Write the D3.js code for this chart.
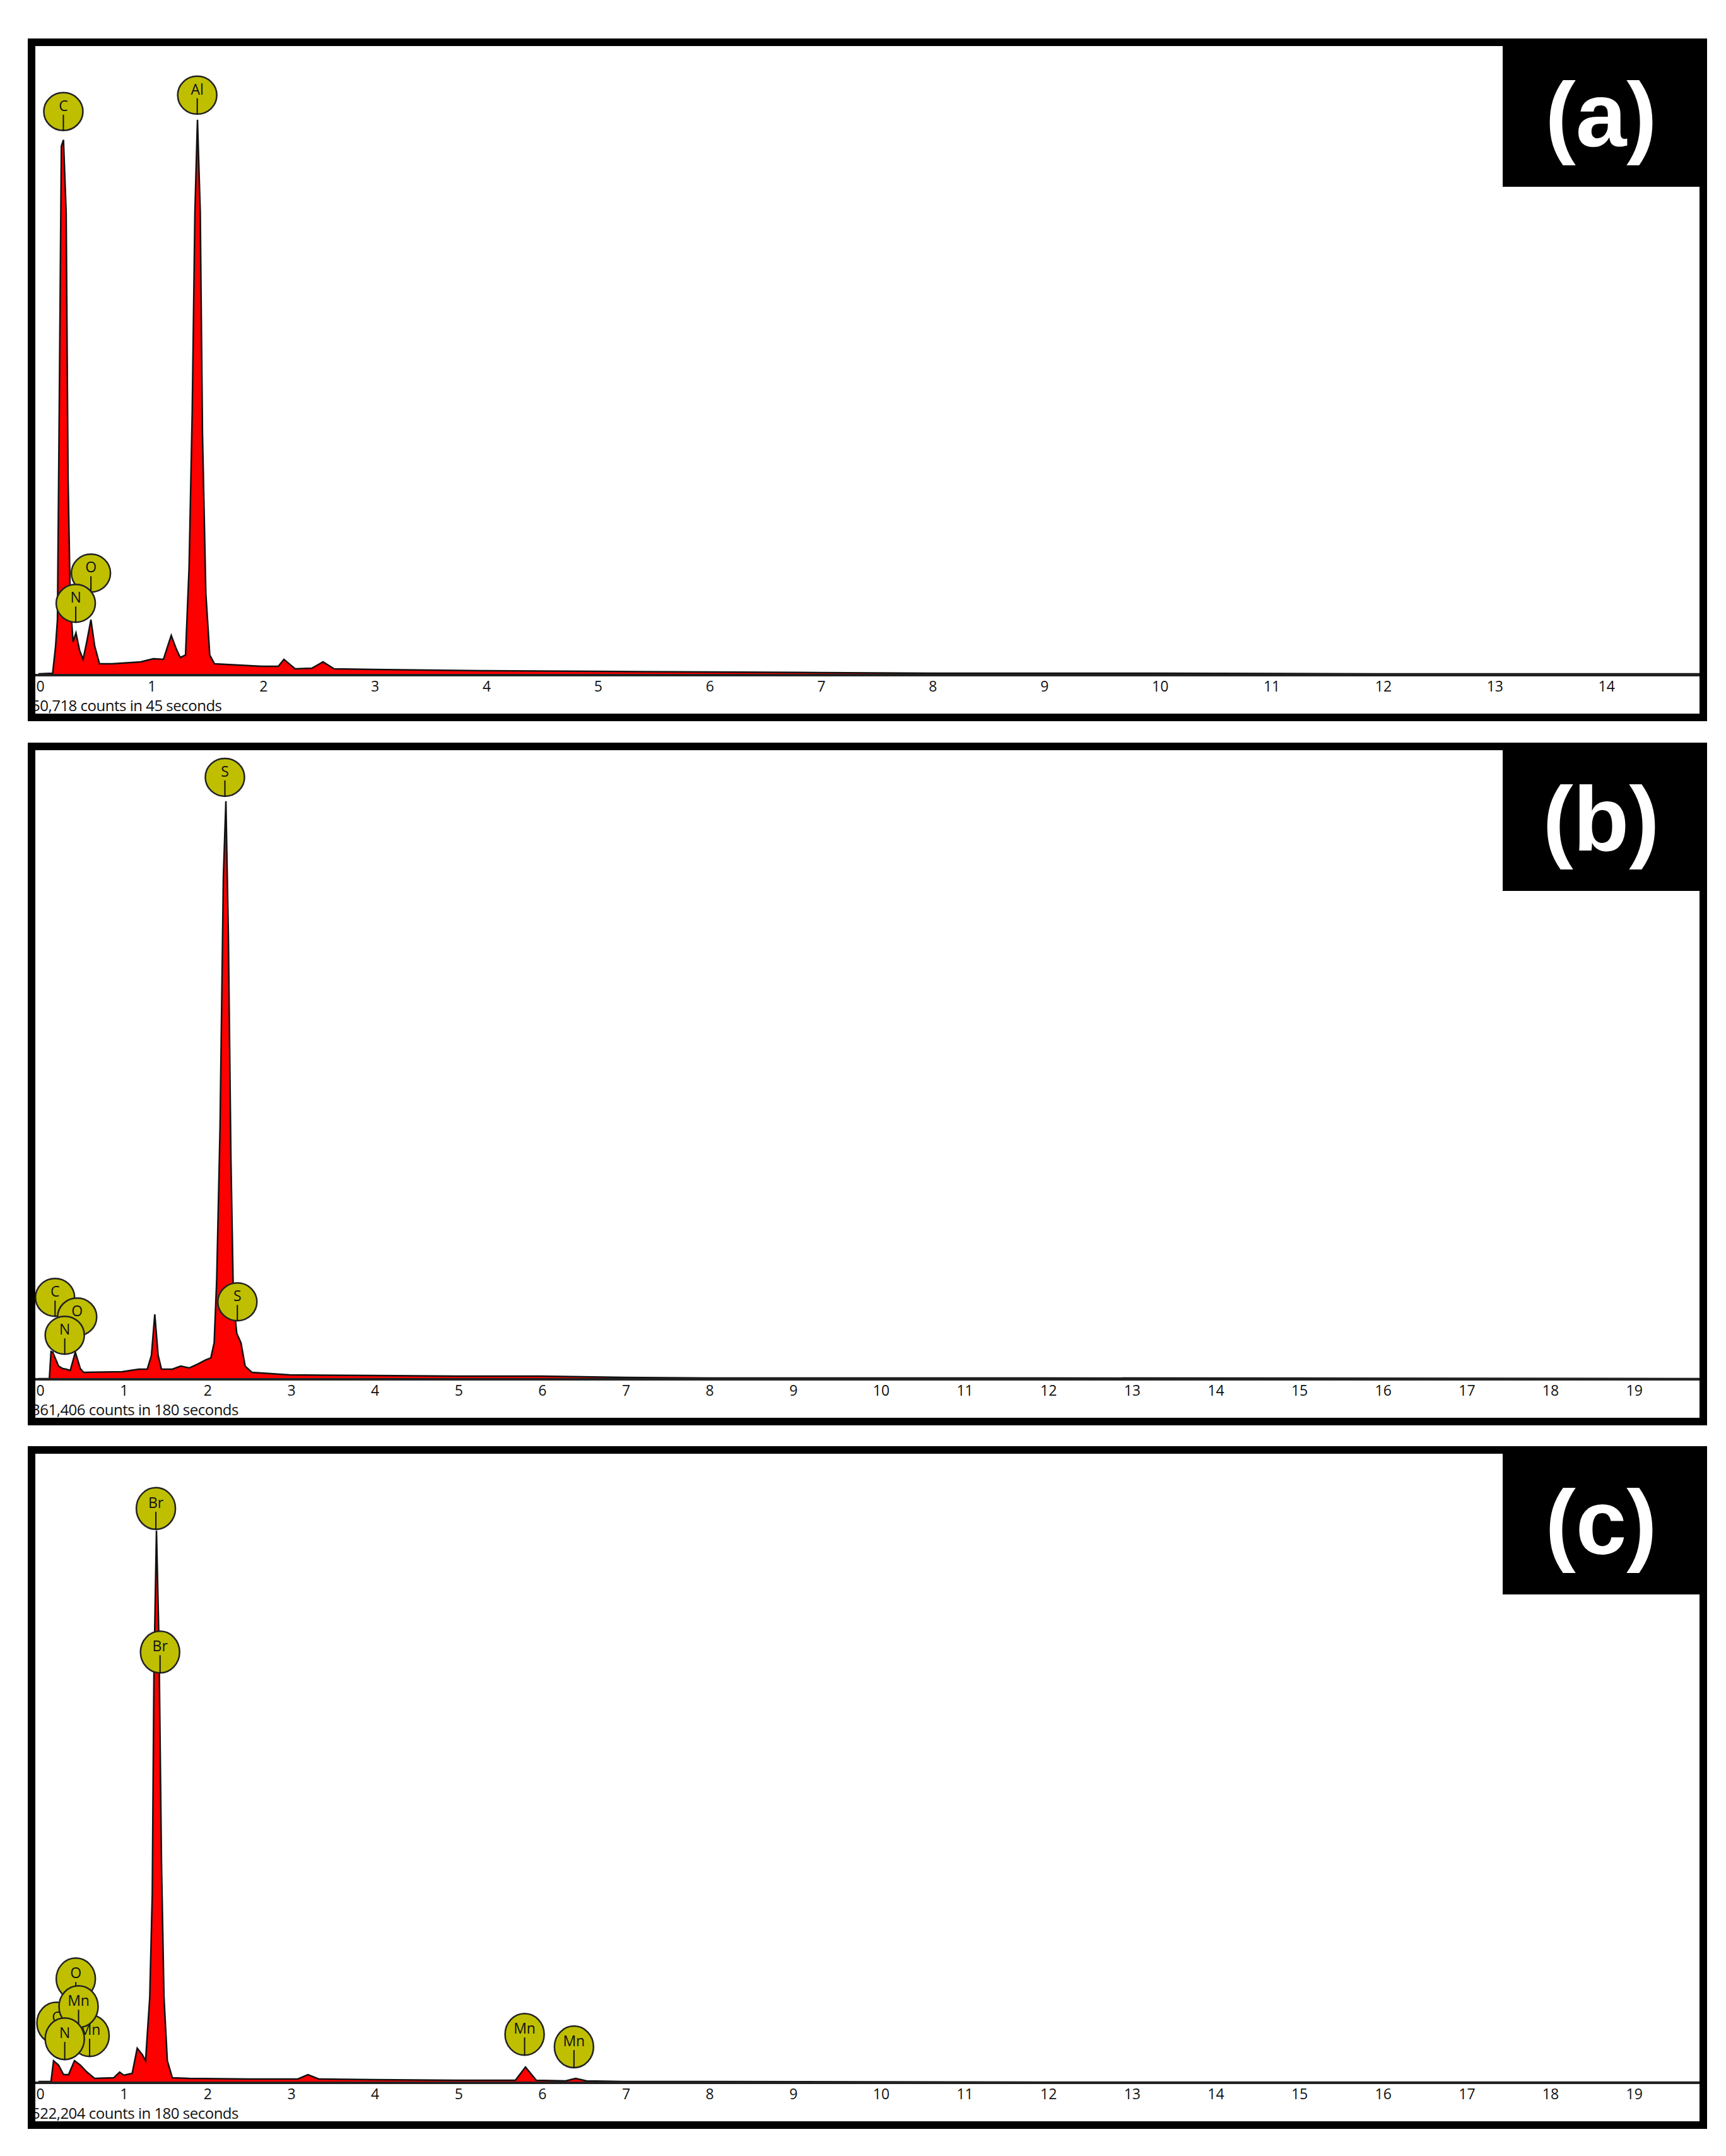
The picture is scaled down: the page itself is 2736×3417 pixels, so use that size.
<!DOCTYPE html>
<html><head><meta charset="utf-8">
<script src="https://cdn.jsdelivr.net/npm/d3@7"></script>
<style>html,body{margin:0;padding:0;background:#fff}</style>
</head><body>
<script>
// ---- Data (keV, relative counts) ----
const energyA = [0,0.127,0.153,0.17,0.186,0.205,0.224,0.248,0.265,0.285,0.31,0.336,0.369,0.4,0.433,0.47,0.504,0.547,0.66,0.916,1.03,1.12,1.158,1.19,1.234,1.27,1.318,1.35,1.378,1.402,1.425,1.45,1.47,1.5,1.535,1.578,2.0,2.15,2.2,2.3,2.45,2.55,2.65,3,4,5,6,7,8,10,12,14.9];
const countsA = [2,3,45,88,418,840,850,735,313,116,53,67,39,25,53,88,46,18,18,21,26,25,46,63,42,28,32,172,418,735,882,735,383,130,32,18,14,14,25,10,11,21,10,9,7,6,5,4,3,3,2,2];
const energyB = [0,0.13,0.15,0.17,0.24,0.29,0.33,0.38,0.44,0.5,0.54,1.0,1.2,1.3,1.35,1.39,1.43,1.47,1.6,1.7,1.8,1.9,2.0,2.06,2.1,2.13,2.17,2.21,2.24,2.27,2.3,2.33,2.37,2.42,2.47,2.55,3,4,5,6,7,8,12,19.9];
const countsB = [1,1,44,43,21,17,16,14,43,17,11,12,16,16,38,103,38,16,16,21,18,24,31,34,58,158,400,800,918,700,350,125,73,58,21,11,7,6,5,5,3,2,2,1];
const energyC = [0,0.15,0.18,0.24,0.3,0.36,0.43,0.5,0.58,0.67,0.9,0.97,1.02,1.12,1.18,1.24,1.28,1.33,1.36,1.38,1.41,1.44,1.47,1.5,1.54,1.6,1.8,2.5,3.1,3.22,3.35,4,5,5.7,5.82,5.95,6.3,6.42,6.55,7,8,12,19.9];
const countsC = [2,2,35,28,13,13,35,28,17,7,8,17,12,15,55,45,35,136,300,650,877,700,350,136,35,8,7,6,6,13,6,5,4,4,25,4,3,7,3,2,2,1,1];
const ticksA = d3.range(0,15);
const ticksBC = d3.range(0,20);
const labelsA = [["C",0.223,895],["Al",1.423,921],["O",0.47,162],["N",0.334,114]];
const labelsB = [["S",2.228,956],["S",2.377,123],["C",0.198,130],["O",0.462,99],["N",0.314,70]];
const labelsC = [["Br",1.403,912],["Br",1.453,684],["C",0.215,95],["Mn",0.611,75],["O",0.446,165],["Mn",0.479,121],["N",0.314,70],["Mn",5.81,77],["Mn",6.40,57]];
const panelTags = ["(a)","(b)","(c)"];
const countTexts = ["50,718 counts in 45 seconds","361,406 counts in 180 seconds","522,204 counts in 180 seconds"];

// ---- Drawing ----
const W=2736,H=3417;
const svg=d3.select("body").append("svg").attr("width",W).attr("height",H);
svg.append("rect").attr("width",W).attr("height",H).attr("fill","#fff");

const panels=[
 {E:energyA,C:countsA,L:labelsA,ticks:ticksA,xmax:14,xpix:2537,ry:30},
 {E:energyB,C:countsB,L:labelsB,ticks:ticksBC,xmax:19,xpix:2581,ry:30},
 {E:energyC,C:countsC,L:labelsC,ticks:ticksBC,xmax:19,xpix:2581,ry:33}
];
const offsets=[0,1116,2231];

panels.forEach((p,i)=>{
  const g=svg.append("g").attr("transform",`translate(0,${offsets[i]})`);
  const x=d3.scaleLinear().domain([0,p.xmax]).range([61,p.xpix]);
  const y=d3.scaleLinear().domain([0,1000]).range([1070,72]);
  const cid="clip"+i;
  g.append("clipPath").attr("id",cid).append("rect").attr("x",55).attr("y",72).attr("width",2640).attr("height",998);
  const data=p.E.map((e,k)=>[e,p.C[k]]);
  const area=d3.area().x(d=>x(d[0])).y0(y(0)).y1(d=>y(d[1]));
  const line=d3.line().x(d=>x(d[0])).y(d=>y(d[1]));
  const pg=g.append("g").attr("clip-path",`url(#${cid})`);
  pg.append("path").datum(data).attr("d",area).attr("fill","#ff0000");
  pg.append("path").datum(data).attr("d",line).attr("fill","none").attr("stroke","#111").attr("stroke-width",2.5);
  const ax=g.append("g").attr("transform","translate(0,1070)")
    .call(d3.axisBottom(x).tickValues(p.ticks).tickSize(0).tickPadding(10).tickFormat(d3.format("d")));
  ax.select(".domain").remove();
  ax.selectAll("text").attr("font-family","Open Sans, sans-serif").attr("font-size",23).attr("fill","#111")
    .attr("text-anchor","start").attr("dx",-4);
  g.append("line").attr("x1",55).attr("x2",2695).attr("y1",1070).attr("y2",1070).attr("stroke","#222").attr("stroke-width",4);
  g.append("text").attr("x",50).attr("y",1127).text(countTexts[i])
    .attr("font-family","Open Sans, sans-serif").attr("font-size",24).attr("fill","#111").attr("letter-spacing",-0.5);
  p.L.forEach(([t,e,c])=>{
    const cx=x(e),cy=y(c);
    const lg=g.append("g");
    lg.append("ellipse").attr("cx",cx).attr("cy",cy).attr("rx",31).attr("ry",p.ry)
      .attr("fill","#bfbf00").attr("stroke","#222").attr("stroke-width",2.5);
    lg.append("text").attr("x",cx).attr("y",cy-1).text(t).attr("text-anchor","middle")
      .attr("font-family","Open Sans, sans-serif").attr("font-size",23).attr("fill","#111");
    lg.append("line").attr("x1",cx).attr("x2",cx).attr("y1",cy+5).attr("y2",cy+p.ry).attr("stroke","#111").attr("stroke-width",2);
  });
  g.append("rect").attr("x",2382).attr("y",72).attr("width",313).attr("height",224).attr("fill","#000");
  g.append("text").attr("x",2538).attr("y",232).text(panelTags[i]).attr("text-anchor","middle")
    .attr("font-family","Liberation Sans, Arial, sans-serif").attr("font-weight","bold").attr("font-size",145).attr("fill","#fff");
  g.append("rect").attr("x",50).attr("y",67).attr("width",2650).attr("height",1070)
    .attr("fill","none").attr("stroke","#000").attr("stroke-width",12);
});
</script>
</body></html>
